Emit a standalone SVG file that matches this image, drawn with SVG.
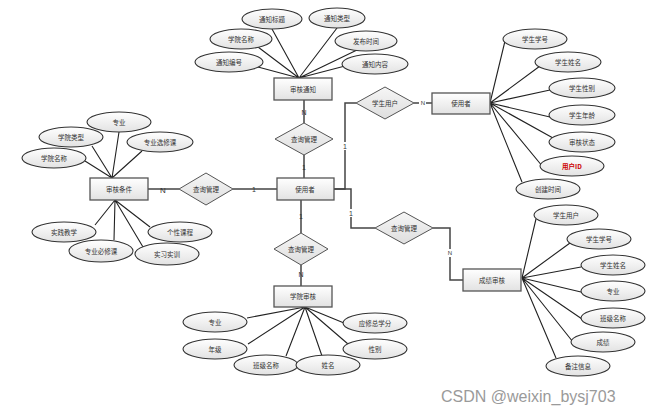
<svg xmlns="http://www.w3.org/2000/svg" width="662" height="415" viewBox="0 0 662 415">
<defs>
<linearGradient id="g" x1="0" y1="0" x2="0" y2="1"><stop offset="0" stop-color="#ffffff"/><stop offset="1" stop-color="#e2e2e2"/></linearGradient>
<linearGradient id="gd" x1="0" y1="0" x2="0" y2="1"><stop offset="0" stop-color="#f6f6f6"/><stop offset="1" stop-color="#dedede"/></linearGradient>
</defs>
<style>
.e{fill:url(#g);stroke:#333;stroke-width:1.1}
.r{fill:url(#g);stroke:#555;stroke-width:1.3}
.d{fill:url(#gd);stroke:#555;stroke-width:1}
.t{font-family:"Noto Sans CJK SC","Noto Sans",sans-serif;font-size:6.5px;fill:#333;text-anchor:middle;dominant-baseline:central}
.l{font-family:"Liberation Sans",sans-serif;font-size:7px;fill:#333;text-anchor:middle;dominant-baseline:central}
.a{stroke:#222;stroke-width:1.1;fill:none}
.c{stroke:#444;stroke-width:1.5;fill:none}
</style>
<rect width="662" height="415" fill="#fff"/>
<g id="connectors">
<!-- 审核通知 attributes -->
<path class="a" d="M299 78L272 29M299 78L337 28M299 78L258 47M299 78L357 50M299 78L258 67M299 78L345 66"/>
<!-- 审核条件 attributes -->
<path class="a" d="M112 178L119 132M112 178L92 146M112 178L142 151M112 178L85 161M115 200L95 225M115 200L114 240M115 200L143 247M115 200L150 227"/>
<!-- 使用者 right attributes -->
<path class="a" d="M490 103L505 41M490 103L540 66M490 103L550 90M490 103L550 117M490 103L553 138M490 103L543 167M490 103L522 182"/>
<!-- 成绩审核 attributes -->
<path class="a" d="M522 278L536 219M522 278L570 243M522 278L581 267M522 278L581 292M522 278L582 319M522 278L573 342M522 278L556 358"/>
<!-- 学院审核 attributes -->
<path class="a" d="M305 307L247 318M305 307L248 344M305 307L286 356M305 307L322 356M305 307L344 323M305 307L348 344"/>
<!-- relations -->
<path class="c" d="M304 100V123M304 155V178"/>
<path class="c" d="M148 189H179M233 189H277"/>
<path class="c" d="M301 200V233M301 265V286"/>
<path class="c" d="M334 189H345V103H356M414 103H432"/>
<path class="c" d="M334 189H351V228H375M433 228H450V280H463"/>
</g>
<g id="labels">
<text class="l" x="304" y="112">N</text>
<text class="l" x="304" y="167">1</text>
<text class="l" x="163" y="190" style="font-size:8px">N</text>
<text class="l" x="254" y="189">1</text>
<text class="l" x="301" y="216">1</text>
<text class="l" x="301" y="274">N</text>
<rect x="341" y="142" width="8" height="8" fill="#fff"/><text class="l" x="345" y="146">1</text>
<rect x="347" y="209" width="8" height="8" fill="#fff"/><text class="l" x="351" y="213">1</text>
<rect x="419" y="99" width="7" height="8" fill="#fff"/><text class="l" x="423" y="103" style="font-size:6px">N</text>
<rect x="446" y="249" width="8" height="8" fill="#fff"/><text class="l" x="450" y="253" style="font-size:6px">N</text>
</g>
<g id="n-shtz"><rect class="r" x="274" y="78" width="58" height="22"/><text class="t" x="303" y="89">审核通知</text></g>
<g id="a-tzbt"><ellipse class="e" cx="272" cy="19" rx="30" ry="10"/><text class="t" x="272" y="19">通知标题</text></g>
<g id="a-tzlx"><ellipse class="e" cx="337" cy="18" rx="28" ry="10"/><text class="t" x="337" y="18">通知类型</text></g>
<g id="a-xymc1"><ellipse class="e" cx="241" cy="39" rx="31" ry="10"/><text class="t" x="241" y="39">学院名称</text></g>
<g id="a-fbsj"><ellipse class="e" cx="366" cy="41" rx="31" ry="10"/><text class="t" x="366" y="41">发布时间</text></g>
<g id="a-tzbh"><ellipse class="e" cx="229" cy="62" rx="34" ry="10"/><text class="t" x="229" y="62">通知编号</text></g>
<g id="a-tznr"><ellipse class="e" cx="375" cy="64" rx="33" ry="10"/><text class="t" x="375" y="64">通知内容</text></g>

<g id="n-shtj"><rect class="r" x="90" y="178" width="58" height="22"/><text class="t" x="119" y="189">审核条件</text></g>
<g id="a-zy1"><ellipse class="e" cx="119" cy="122" rx="32" ry="10"/><text class="t" x="119" y="122">专业</text></g>
<g id="a-xylx"><ellipse class="e" cx="71" cy="137" rx="32" ry="10"/><text class="t" x="71" y="137">学院类型</text></g>
<g id="a-zyxxk"><ellipse class="e" cx="160" cy="142" rx="33" ry="10"/><text class="t" x="160" y="142">专业选修课</text></g>
<g id="a-xymc2"><ellipse class="e" cx="54" cy="158" rx="32" ry="10"/><text class="t" x="54" y="158">学院名称</text></g>
<g id="a-sjjx"><ellipse class="e" cx="64" cy="232" rx="32" ry="10"/><text class="t" x="64" y="232">实践教学</text></g>
<g id="a-gxkc"><ellipse class="e" cx="180" cy="232" rx="32" ry="10"/><text class="t" x="180" y="232">个性课程</text></g>
<g id="a-zybxk"><ellipse class="e" cx="101" cy="251" rx="32" ry="11"/><text class="t" x="101" y="251">专业必修课</text></g>
<g id="a-sxsx"><ellipse class="e" cx="167" cy="254" rx="32" ry="11"/><text class="t" x="167" y="254">实习实训</text></g>

<g id="r-cx1"><polygon class="d" points="304,123 333,139 304,155 275,139"/><text class="t" x="304" y="139">查询管理</text></g>
<g id="r-cx2"><polygon class="d" points="206,173 233,189 206,205 179,189"/><text class="t" x="206" y="189">查询管理</text></g>
<g id="r-cx3"><polygon class="d" points="301,233 328,249 301,265 274,249"/><text class="t" x="301" y="249">查询管理</text></g>
<g id="r-xsyh"><polygon class="d" points="385,87 414,103 385,119 356,103"/><text class="t" x="385" y="103">学生用户</text></g>
<g id="r-cx4"><polygon class="d" points="404,212 433,228 404,244 375,228"/><text class="t" x="404" y="228">查询管理</text></g>

<g id="n-syz"><rect class="r" x="277" y="178" width="57" height="22"/><text class="t" x="305" y="189">使用者</text></g>

<g id="n-syz2"><rect class="r" x="432" y="93" width="58" height="21"/><text class="t" x="461" y="103">使用者</text></g>
<g id="a-xsxh1"><ellipse class="e" cx="535" cy="39" rx="32" ry="10"/><text class="t" x="535" y="39">学生学号</text></g>
<g id="a-xsxm1"><ellipse class="e" cx="568" cy="62" rx="33" ry="10"/><text class="t" x="568" y="62">学生姓名</text></g>
<g id="a-xsxb"><ellipse class="e" cx="582" cy="88" rx="33" ry="10"/><text class="t" x="582" y="88">学生性别</text></g>
<g id="a-xsnl"><ellipse class="e" cx="582" cy="115" rx="33" ry="10"/><text class="t" x="582" y="115">学生年龄</text></g>
<g id="a-shzt"><ellipse class="e" cx="582" cy="142" rx="33" ry="10"/><text class="t" x="582" y="142">审核状态</text></g>
<g id="a-yhid"><ellipse class="e" cx="572" cy="166" rx="32" ry="10"/><text class="t" x="572" y="166" style="font-weight:bold;fill:#c00">用户ID</text></g>
<g id="a-cjsj"><ellipse class="e" cx="548" cy="189" rx="32" ry="10"/><text class="t" x="548" y="189">创建时间</text></g>

<g id="n-cjsh"><rect class="r" x="463" y="269" width="58" height="22"/><text class="t" x="492" y="280">成绩审核</text></g>
<g id="a-xsyh"><ellipse class="e" cx="566" cy="215" rx="32" ry="10"/><text class="t" x="566" y="215">学生用户</text></g>
<g id="a-xsxh2"><ellipse class="e" cx="599" cy="239" rx="32" ry="10"/><text class="t" x="599" y="239">学生学号</text></g>
<g id="a-xsxm2"><ellipse class="e" cx="613" cy="265" rx="32" ry="10"/><text class="t" x="613" y="265">学生姓名</text></g>
<g id="a-zy2"><ellipse class="e" cx="613" cy="291" rx="32" ry="10"/><text class="t" x="613" y="291">专业</text></g>
<g id="a-bjmc1"><ellipse class="e" cx="613" cy="318" rx="32" ry="10"/><text class="t" x="613" y="318">班级名称</text></g>
<g id="a-cj"><ellipse class="e" cx="603" cy="342" rx="32" ry="10"/><text class="t" x="603" y="342">成绩</text></g>
<g id="a-bzxx"><ellipse class="e" cx="578" cy="366" rx="32" ry="10"/><text class="t" x="578" y="366">备注信息</text></g>

<g id="n-xysh"><rect class="r" x="274" y="286" width="58" height="21"/><text class="t" x="303" y="296">学院审核</text></g>
<g id="a-zy3"><ellipse class="e" cx="215" cy="322" rx="32" ry="10"/><text class="t" x="215" y="322">专业</text></g>
<g id="a-nj"><ellipse class="e" cx="215" cy="349" rx="32" ry="10"/><text class="t" x="215" y="349">年级</text></g>
<g id="a-bjmc2"><ellipse class="e" cx="266" cy="365" rx="32" ry="10"/><text class="t" x="266" y="365">班级名称</text></g>
<g id="a-xm"><ellipse class="e" cx="328" cy="365" rx="32" ry="10"/><text class="t" x="328" y="365">姓名</text></g>
<g id="a-yxzxf"><ellipse class="e" cx="375" cy="323" rx="32" ry="10"/><text class="t" x="375" y="323">应修总学分</text></g>
<g id="a-xb"><ellipse class="e" cx="375" cy="349" rx="32" ry="10"/><text class="t" x="375" y="349">性别</text></g>

<text x="441" y="402" style="font-family:'Liberation Sans',sans-serif;font-size:16px;fill:#9a9a9a">CSDN @weixin_bysj703</text>
</svg>
